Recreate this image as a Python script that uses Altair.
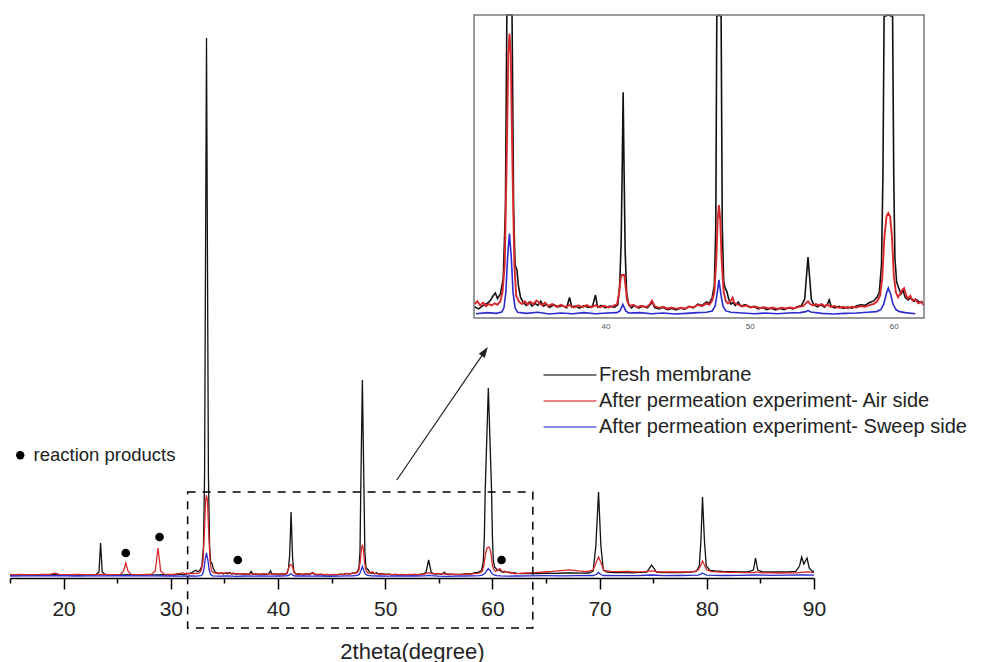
import altair as alt
import pandas as pd

# ---------------- data (2theta, intensity in a.u.) ----------------
FRESH = [(15.0,1.0),(15.8,1.3),(16.6,0.9),(17.4,1.2),(18.2,1.0),(19.0,1.4),(19.8,1.1),(20.6,1.2),(21.4,0.9),(22.2,1.2),
 (23.0,1.3),(23.3,4),(23.45,33),(23.6,4),(23.9,1.3),(24.7,1.1),(25.5,1.0),(26.3,1.3),(27.1,1.0),(27.9,1.2),(28.7,1.1),
 (29.5,1.3),(30.3,1.2),(30.9,1.8),(31.2,1.2),(31.5,2.2),(31.8,2.8),(32.0,3.6),(32.2,5.0),(32.35,5.8),(32.5,4.2),(32.7,5.5),
 (32.9,10),(33.05,30),(33.15,100),(33.33,538),(33.51,100),(33.62,30),(33.72,14),(33.85,12.5),(33.95,8),(34.1,4.5),(34.3,3.0),
 (34.5,2.2),(34.7,3.2),(34.9,2.0),(35.1,2.8),(35.3,2.2),(35.5,3.4),(35.7,2.0),(35.9,2.6),(36.1,1.6),(36.4,2.4),(36.7,1.8),
 (37.0,2.2),(37.3,1.5),(37.5,4.5),(37.65,1.8),(37.9,2.0),(38.2,1.4),(38.5,2.1),(38.8,1.6),(39.1,2.0),(39.3,5.2),(39.45,1.7),
 (39.7,2.2),(40.0,1.5),(40.3,2.0),(40.6,1.6),(40.85,2.4),(40.98,8),(41.08,20),(41.15,40),(41.22,64),(41.29,40),(41.36,18),
 (41.46,6),(41.6,2.4),(41.8,1.5),(42.0,2.2),(42.3,1.4),(42.6,2.0),(42.9,1.5),(43.1,2.4),(43.25,3.2),(43.4,1.6),(43.7,1.2),
 (44.0,1.6),(44.3,1.0),(44.6,1.3),(44.9,0.9),(45.2,1.4),(45.5,1.1),(45.8,1.9),(46.1,1.5),(46.4,2.6),(46.7,2.2),(47.0,3.2),
 (47.2,2.8),(47.4,4.5),(47.55,8),(47.65,25),(47.72,86),(47.87,196),(48.02,86),(48.1,25),(48.2,9),(48.3,7.2),(48.42,6.2),
 (48.55,4.0),(48.7,2.6),(48.85,3.0),(49.0,2.2),(49.2,3.2),(49.4,2.0),(49.7,2.4),(50.0,1.6),(50.3,1.9),(50.6,1.2),(50.9,1.6),
 (51.2,1.0),(51.5,1.4),(51.8,0.9),(52.1,1.3),(52.4,1.0),(52.7,1.5),(53.0,1.2),(53.3,1.8),(53.6,2.2),(53.82,4),(53.95,11),
 (54.05,16.2),(54.15,11),(54.28,4),(54.45,2.4),(54.7,1.8),(54.95,2.4),(55.2,1.7),(55.4,2.6),(55.52,3.8),(55.65,2.0),(55.9,1.5),
 (56.2,1.9),(56.5,1.3),(56.8,1.7),(57.1,1.4),(57.4,2.0),(57.7,2.4),(58.0,2.2),(58.3,3.0),(58.6,3.5),(58.85,4.6),(59.0,6),
 (59.15,14),(59.25,40),(59.33,86),(59.62,188),(59.92,86),(60.0,40),(60.08,16),(60.2,9),(60.35,7.2),(60.5,5.5),(60.65,6.5),
 (60.8,4.5),(61.0,3.8),(61.2,4.4),(61.4,3.4),(61.6,3.8),(61.8,3.0),(62.0,3.4),(62.3,2.6),(62.8,2.4),(63.5,2.6),(64.3,2.4),
 (65.1,2.8),(65.9,2.6),(66.7,3.0),(67.5,3.2),(68.3,2.8),(69.0,3.0),(69.4,5),(69.65,30),(69.9,84),(70.12,30),(70.35,6),
 (70.7,3.8),(71.4,3.4),(72.2,3.6),(73.0,3.2),(73.8,3.6),(74.4,3.8),(74.65,8),(74.85,11),(75.05,8),(75.3,3.8),(76.0,3.4),
 (76.8,3.6),(77.6,3.4),(78.4,3.8),(79.0,4.5),(79.3,10),(79.45,35),(79.6,79),(79.78,35),(79.95,10),(80.3,5.5),(80.8,5.0),
 (81.5,4.6),(82.3,4.4),(83.1,4.2),(83.9,4.4),(84.35,6),(84.55,18),(84.75,6),(85.2,4.2),(86.0,4.0),(86.8,4.2),(87.6,4.0),
 (88.3,4.6),(88.65,10),(88.85,19),(89.05,12),(89.2,15),(89.35,18),(89.55,8),(89.8,5),(90.0,4.5)]

AIR = [(15.0,1.2),(16.0,1.5),(17.0,1.2),(18.0,1.6),(18.8,1.8),(19.2,2.8),(19.6,1.6),(20.4,1.3),(21.4,1.5),(22.4,1.2),
 (23.4,1.5),(24.4,1.3),(25.3,1.6),(25.6,5),(25.8,13),(26.0,5),(26.3,1.6),(27.2,1.4),(28.2,1.8),(28.55,5),(28.7,18),(28.8,28),
 (28.92,18),(29.05,5),(29.4,1.8),(30.2,1.6),(30.9,2.6),(31.1,3.4),(31.3,2.2),(31.5,3.0),(31.7,2.0),(31.9,2.6),(32.1,2.2),
 (32.3,2.8),(32.5,2.4),(32.7,3.4),(32.85,6),(33.0,14),(33.12,40),(33.25,75),(33.33,81),(33.42,75),(33.55,40),(33.67,14),
 (33.8,5),(34.0,3.2),(34.2,2.6),(34.4,3.4),(34.6,2.4),(34.8,3.2),(35.0,2.6),(35.2,3.6),(35.4,3.0),(35.6,2.2),(35.8,3.0),
 (36.0,2.0),(36.3,2.6),(36.6,1.8),(36.9,2.4),(37.2,1.7),(37.5,2.3),(37.8,1.6),(38.1,2.2),(38.4,1.7),(38.7,2.3),(39.0,1.6),
 (39.3,2.2),(39.6,1.7),(39.9,2.1),(40.2,1.6),(40.5,2.0),(40.8,2.6),(40.95,6),(41.05,10),(41.12,11),(41.3,11),(41.38,8),
 (41.5,3.5),(41.7,2.0),(41.9,2.4),(42.2,1.7),(42.5,2.1),(42.8,1.6),(43.05,2.4),(43.22,3.6),(43.4,2.0),(43.7,1.5),(44.0,1.8),
 (44.3,1.3),(44.6,1.6),(44.9,1.2),(45.2,1.5),(45.5,1.3),(45.8,1.8),(46.1,1.6),(46.4,2.4),(46.7,2.0),(47.0,2.8),(47.2,2.4),
 (47.4,3.6),(47.55,6),(47.68,15),(47.78,27),(47.87,31.3),(47.96,27),(48.06,15),(48.2,6),(48.35,3.4),(48.5,2.8),(48.7,3.6),
 (48.82,4.4),(48.95,2.8),(49.2,2.4),(49.5,1.9),(49.8,2.2),(50.1,1.6),(50.4,1.9),(50.7,1.4),(51.0,1.7),(51.3,1.3),(51.6,1.6),
 (51.9,1.2),(52.2,1.5),(52.5,1.3),(52.8,1.6),(53.1,1.4),(53.4,1.8),(53.7,2.0),(53.9,2.8),(54.05,3.4),(54.2,2.6),(54.4,2.2),
 (54.6,2.6),(54.8,2.2),(55.0,2.6),(55.2,2.0),(55.4,2.4),(55.6,1.8),(55.9,2.0),(56.2,1.5),(56.5,1.8),(56.8,1.4),(57.1,1.8),
 (57.4,1.6),(57.7,2.0),(58.0,1.8),(58.3,2.3),(58.6,2.6),(58.85,3.4),(59.05,5),(59.2,10),(59.35,22),(59.5,28),(59.62,29),
 (59.75,28),(59.88,22),(60.0,11),(60.15,6),(60.3,4.6),(60.45,5.6),(60.6,6.8),(60.72,7.2),(60.85,5.2),(61.0,4.2),(61.15,5.0),
 (61.3,3.6),(61.5,4.0),(61.7,2.8),(61.9,3.2),(62.1,2.2),(62.5,2.6),(63.2,3.0),(64.0,3.4),(64.8,4.0),(65.6,4.6),(66.4,5.4),
 (67.2,6.2),(68.0,5.2),(68.8,4.4),(69.4,6),(69.7,14),(69.9,19),(70.1,14),(70.4,5.5),(71.0,4.6),(71.8,4.4),(72.6,4.6),
 (73.4,4.2),(74.2,4.4),(74.85,5.2),(75.5,4.2),(76.3,4.0),(77.1,4.2),(77.9,4.0),(78.7,4.2),(79.2,6),(79.45,11),(79.6,15),
 (79.78,11),(80.0,6),(80.4,4.6),(81.2,4.0),(82.0,3.6),(82.8,3.6),(83.6,3.4),(84.4,3.4),(84.6,4.2),(85.2,3.2),(86.0,3.2),
 (86.8,3.0),(87.6,3.2),(88.4,3.2),(89.0,3.8),(89.4,4.2),(90.0,3.4)]

SWEEP = [(15.0,0.0),(16.5,0.2),(18.0,0.1),(19.5,0.3),(21.0,0.0),(22.5,0.2),(24.0,0.1),(25.5,0.3),(27.0,0.1),(28.5,0.2),
 (30.0,0.0),(31.0,-0.2),(31.8,0.1),(32.4,-0.1),(32.8,0.3),(32.95,1.5),(33.08,6),(33.2,16),(33.33,23),(33.46,16),(33.58,6),
 (33.72,1.5),(33.9,0.2),(34.5,-0.1),(35.3,0.2),(36.1,-0.3),(36.9,0.0),(37.7,-0.2),(38.5,0.1),(39.3,-0.2),(40.1,0.0),
 (40.8,0.1),(41.0,0.6),(41.2,2.5),(41.4,0.6),(41.6,0.0),(42.4,0.1),(43.2,-0.2),(44.0,0.0),(44.8,-0.3),(45.6,-0.1),(46.4,0.1),
 (47.0,0.2),(47.4,0.6),(47.6,2),(47.74,5.5),(47.87,9.6),(48.0,5.5),(48.15,2),(48.35,0.6),(48.7,0.2),(49.5,0.0),(50.3,-0.2),
 (51.1,0.0),(51.9,-0.2),(52.7,0.0),(53.5,0.1),(53.9,0.4),(54.05,0.7),(54.25,0.3),(55.0,-0.1),(55.8,-0.3),(56.6,-0.1),
 (57.4,0.0),(58.2,0.2),(58.8,0.4),(59.1,1.0),(59.3,2.5),(59.48,5.5),(59.62,7.2),(59.78,5.5),(59.95,2.6),(60.15,1.0),
 (60.4,0.4),(60.8,0.1),(61.5,-0.2),(62.2,0.0),(63.5,0.1),(65.0,0.3),(66.5,0.2),(68.0,0.4),(69.4,0.5),(69.7,1.5),(69.9,3.5),
 (70.1,1.5),(70.4,0.5),(72.0,0.3),(73.5,0.4),(74.85,1.0),(76.0,0.4),(77.5,0.5),(79.2,0.8),(79.45,1.8),(79.6,3),(79.78,1.8),
 (80.0,0.8),(81.5,0.5),(83.0,0.6),(84.6,1.0),(86.0,0.6),(87.5,0.8),(89.0,1.2),(90.0,0.8)]

SERIES_NAMES = ["Fresh membrane",
                "After permeation experiment- Air side",
                "After permeation experiment- Sweep side"]
SERIES_COLORS = ["#111111", "#d9262b", "#2b2bd2"]

REACTION_X = [25.8, 28.95, 36.25, 60.85]
REACTION_Y = [23, 39, 16, 16]
REACTION_LABEL = "reaction products"

MAIN_X_DOMAIN = [15, 90]
MAIN_Y_DOMAIN = [-2, 561]
X_TICKS = list(range(15, 95, 5))

INSET_X_DOMAIN = [30.87, 62.1]
INSET_Y_DOMAIN = [-1.45, 86.4]
INSET_TICKS = [40, 50, 60]

ZOOM_BOX_X = [31.57, 63.77]
ZOOM_BOX_Y = [-52, 84]
ARROW_X = [51.08, 59.23]
ARROW_Y = [96, 223.6]

# ---------------- tables ----------------
rows = []
for name, pts in zip(SERIES_NAMES, [FRESH, AIR, SWEEP]):
    for x, y in pts:
        rows.append({"series": name, "x": x, "y": y})
df = pd.DataFrame(rows)
dots = pd.DataFrame({"x": REACTION_X, "y": REACTION_Y, "kind": REACTION_LABEL})
box = pd.DataFrame({"x": [ZOOM_BOX_X[0]], "x1": [ZOOM_BOX_X[1]],
                    "y": [ZOOM_BOX_Y[0]], "y1": [ZOOM_BOX_Y[1]]})
arrow = pd.DataFrame({"x": ARROW_X, "y": ARROW_Y, "o": [0, 1]})
head = arrow.tail(1)
frame = pd.DataFrame({"x": [INSET_X_DOMAIN[0]], "x1": [INSET_X_DOMAIN[1]],
                      "y": [INSET_Y_DOMAIN[0]], "y1": [INSET_Y_DOMAIN[1]]})

W, H = 804, 563
FONT = "Liberation Sans"

mx = alt.Scale(domain=MAIN_X_DOMAIN, nice=False, zero=False)
my = alt.Scale(domain=MAIN_Y_DOMAIN, nice=False, zero=False)
ix = alt.Scale(domain=INSET_X_DOMAIN, range=[464, 914], nice=False, zero=False, clamp=True)
iy = alt.Scale(domain=INSET_Y_DOMAIN, range=[303, 0], nice=False, zero=False, clamp=True)

# long legend stroke drawn with a small symbol size so rows stay close together
color_enc = alt.Color(
    "series:N",
    scale=alt.Scale(domain=SERIES_NAMES, range=SERIES_COLORS),
    legend=alt.Legend(orient="none", legendX=550, legendY=350, title=None,
                      symbolType="M-5,0H5", symbolSize=112, symbolStrokeWidth=1.5,
                      symbolOpacity=0.75, symbolFillColor="transparent",
                      labelFontSize=20, labelColor="#222222", labelFont=FONT,
                      rowPadding=6, labelOffset=19, labelLimit=600, padding=0),
)

main_axis = alt.Axis(
    values=X_TICKS,
    labelExpr="datum.value % 10 === 0 ? datum.label : ''",
    tickSize={"condition": {"test": "datum.value % 10 === 0", "value": 11}, "value": 5},
    labelFontSize=21, labelColor="#222222", labelFont=FONT,
    domainColor="#000000", domainWidth=1.5, tickColor="#000000", tickWidth=1.5,
    labelPadding=9, labelFlush=False, labelOverlap=False, grid=False,
    title="2theta(degree)", titleFontSize=22, titleFontWeight="normal",
    titleColor="#222222", titleFont=FONT, titlePadding=22,
)

def mX(field="x:Q"):
    return alt.X(field, scale=mx, axis=main_axis)

def mY(field="y:Q"):
    return alt.Y(field, scale=my, axis=None)

main_layers = []
for name in SERIES_NAMES:
    main_layers.append(
        alt.Chart(df).transform_filter(alt.datum.series == name).mark_line(strokeWidth=1.3).encode(
            x=mX(), y=mY(), color=color_enc,
        )
    )

dots_layer = alt.Chart(dots).mark_point(filled=True, size=75, opacity=1, color="#000000").encode(
    x=mX(), y=mY(),
    shape=alt.Shape("kind:N", scale=alt.Scale(domain=[REACTION_LABEL], range=["circle"]),
                    legend=alt.Legend(orient="none", legendX=1, legendY=431, title=None,
                                      labelFontSize=18.5, labelColor="#222222", labelFont=FONT,
                                      symbolSize=70, symbolFillColor="#000000",
                                      symbolStrokeColor="#000000", labelOffset=4, padding=0)),
)

box_layer = alt.Chart(box).mark_rect(fillOpacity=0, stroke="#000000", strokeWidth=1.5,
                                     strokeDash=[8, 7]).encode(
    x=mX(), x2="x1:Q", y=mY(), y2="y1:Q",
)

arrow_line = alt.Chart(arrow).mark_line(color="#222222", strokeWidth=1.2).encode(
    x=mX(), y=mY(), order="o:Q",
)
arrow_head = alt.Chart(head).mark_point(shape="M0,-1.1L0.6,0.7L-0.6,0.7Z", filled=True, size=144,
                                        angle=34.4, opacity=1, color="#222222").encode(
    x=mX(), y=mY(),
)

main = alt.layer(*main_layers, dots_layer, box_layer, arrow_line, arrow_head)

inset_axis = alt.Axis(orient="bottom", offset=-260, values=INSET_TICKS, ticks=False, domain=False,
                      grid=False, labelFontSize=8, labelColor="#555555", labelFont=FONT,
                      labelPadding=4, title=None)

def iX(field="x:Q"):
    return alt.X(field, scale=ix, axis=inset_axis)

def iY(field="y:Q"):
    return alt.Y(field, scale=iy, axis=None)

inset_layers = []
for k, name in enumerate(SERIES_NAMES):
    inset_layers.append(
        alt.Chart(df).transform_filter(
            (alt.datum.series == name) & (alt.datum.x >= INSET_X_DOMAIN[0]) & (alt.datum.x <= INSET_X_DOMAIN[1])
        ).mark_line(strokeWidth=1.9 if k == 1 else 1.6).encode(
            x=iX(), y=iY(), color=color_enc,
        )
    )
frame_layer = alt.Chart(frame).mark_rect(fillOpacity=0, stroke="#7a7a7a", strokeWidth=1.5).encode(
    x=iX(), x2="x1:Q", y=iY(), y2="y1:Q",
)
inset = alt.layer(*inset_layers, frame_layer)

chart = alt.layer(main, inset).resolve_scale(x="independent", y="independent").properties(
    width=W, height=H,
    autosize=alt.AutoSizeParams(type="none"),
    padding={"left": 2, "top": 7, "right": 170, "bottom": 84},
).configure(font=FONT).configure_view(stroke=None)

chart.save("out.html", embed_options={"renderer": "svg", "actions": False})
